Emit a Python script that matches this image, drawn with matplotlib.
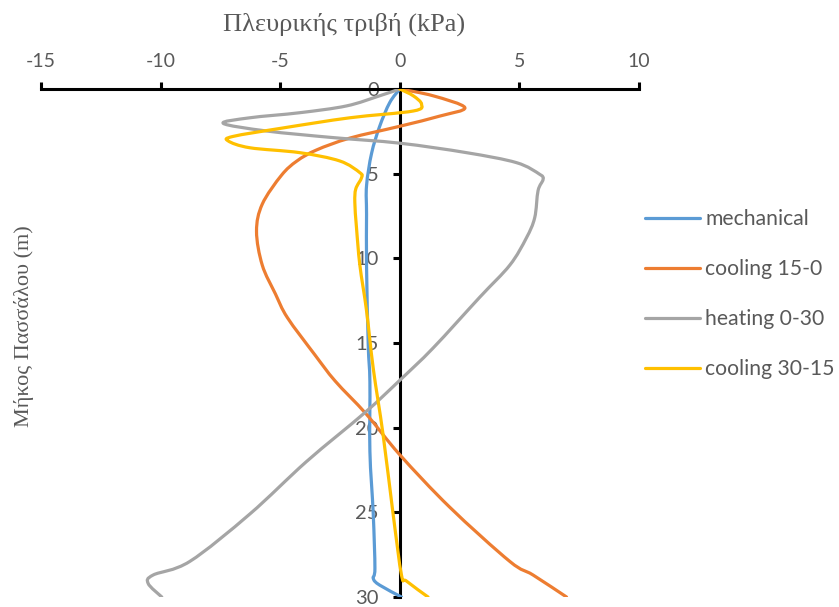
import matplotlib
matplotlib.use('Agg')
import matplotlib.pyplot as plt
from matplotlib.path import Path
from matplotlib.patches import PathPatch
from matplotlib.lines import Line2D

plt.rcParams['axes.unicode_minus'] = False

# depth (m) and side friction (kPa)
mech_y = [0, 0.8, 2.2, 3.8, 5.7, 7.4, 10.5, 15.1, 17.3, 21.4, 25.1, 28.3, 28.9, 29.3, 30.0]
mech_x = [0, -0.42, -0.84, -1.18, -1.39, -1.39, -1.39, -1.32, -1.25, -1.25, -1.11, -1.04, -1.11, -0.84, 0.07]

cool150_y = [0, 0.4, 1.1, 1.6, 2.2, 2.9, 3.6, 4.25, 5.1, 6.8, 8.4, 10.4, 12.1, 13.5, 15.7, 17.25, 19.2, 21.6, 24.7, 27.9, 28.7, 30.0]
cool150_x = [0, 1.39, 2.72, 1.67, 0, -2.09, -3.48, -4.3, -4.95, -5.75, -5.99, -5.75, -5.2, -4.7, -3.55, -2.7, -1.4, 0, 2.09, 4.6, 5.57, 6.97]

heat_y = [0, 0.4, 1.0, 1.4, 1.7, 2.03, 2.48, 2.87, 3.2, 3.76, 4.35, 5.04, 5.34, 6.0, 7.6, 8.8, 10.4, 12.3, 15.3, 17.2, 19.1, 22.0, 25.1, 27.9, 28.7, 29.2, 30.0]
heat_x = [0, -0.84, -2.23, -4.18, -6.27, -7.38, -5.57, -2.79, 0, 2.79, 4.88, 5.85, 5.99, 5.78, 5.64, 5.29, 4.6, 3.34, 1.39, 0, -1.45, -3.9, -6.27, -8.78, -10.31, -10.52, -9.95]

cool3015_y = [0, 0.4, 0.9, 1.3, 1.7, 2.3, 2.8, 3.07, 3.47, 3.76, 4.25, 4.94, 5.24, 5.9, 6.7, 8.2, 10.4, 13.1, 16.5, 20.4, 25.1, 28.7, 29.06, 30.0]
cool3015_x = [0, 0.56, 0.91, 0.56, -2.09, -4.88, -6.97, -7.17, -6.27, -4.18, -2.51, -1.67, -1.6, -1.84, -1.88, -1.81, -1.67, -1.39, -1.11, -0.7, -0.28, 0.07, 0.28, 1.18]

names = ['mechanical', 'cooling 15-0', 'heating 0-30', 'cooling 30-15']
colors = ['#5B9BD5', '#ED7D31', '#A5A5A5', '#FFC000']
xticks = [-15, -10, -5, 0, 5, 10]
yticks = [0, 5, 10, 15, 20, 25, 30]


def smooth_path(xs, ys):
    # Excel-like smoothed line: cubic Bezier segments through the points
    pts = list(zip(xs, ys))
    verts = [pts[0]]
    codes = [Path.MOVETO]
    n = len(pts)
    for i in range(n - 1):
        p0 = pts[i - 1] if i > 0 else pts[i]
        p1 = pts[i]
        p2 = pts[i + 1]
        p3 = pts[i + 2] if i + 2 < n else pts[i + 1]
        c1 = (p1[0] + (p2[0] - p0[0]) / 6, p1[1] + (p2[1] - p0[1]) / 6)
        c2 = (p2[0] - (p3[0] - p1[0]) / 6, p2[1] - (p3[1] - p1[1]) / 6)
        verts += [c1, c2, p2]
        codes += [Path.CURVE4] * 3
    return Path(verts, codes)


fig = plt.figure(figsize=(8.39, 6.07), dpi=100)
ax = fig.add_axes([41/839, 10/607, 598/839, 508/607])

series = [(mech_x, mech_y), (cool150_x, cool150_y), (heat_x, heat_y), (cool3015_x, cool3015_y)]
handles = []
for (xs, ys), c, n in zip(series, colors, names):
    ax.add_patch(PathPatch(smooth_path(xs, ys), fill=False, edgecolor=c, lw=2.3,
                           capstyle='round', joinstyle='round', zorder=3))
    handles.append(Line2D([], [], color=c, lw=2.3, solid_capstyle='round', label=n))

ax.set_xlim(-15, 10)
ax.set_ylim(30, 0)
ax.set_xticks(xticks)
ax.set_yticks(yticks)

ax.spines['bottom'].set_visible(False)
ax.spines['right'].set_visible(False)
ax.spines['top'].set_linewidth(2.2)
ax.spines['left'].set_linewidth(2.2)
ax.spines['left'].set_position(('data', 0))

ax.xaxis.tick_top()
ax.tick_params(axis='x', direction='out', length=5, width=2.2, pad=9,
               labelsize=14, labelcolor='#595959')
ax.tick_params(axis='y', direction='out', length=5, width=2.2, pad=10,
               labelsize=14.5, labelcolor='#595959')
for lab in ax.get_xticklabels() + ax.get_yticklabels():
    lab.set_family('Lato')

fig.text(344/839, 1 - 24/607, 'Πλευρικής τριβή (kPa)', ha='center', va='center',
         family='Liberation Serif', fontsize=19, color='#595959')
fig.text(24/839, 1 - 326/607, 'Μήκος Πασσάλου (m)', ha='center', va='center',
         rotation=90, family='Liberation Serif', fontsize=16, color='#595959')

leg = ax.legend(handles=handles, loc='upper left', bbox_to_anchor=(0.996, 0.78),
                frameon=False, handlelength=2.6, labelspacing=1.42, handletextpad=0.24,
                borderaxespad=0, prop={'family': 'Lato', 'size': 15.2})
for t in leg.get_texts():
    t.set_color('#595959')

fig.savefig('out.png', dpi=100)
